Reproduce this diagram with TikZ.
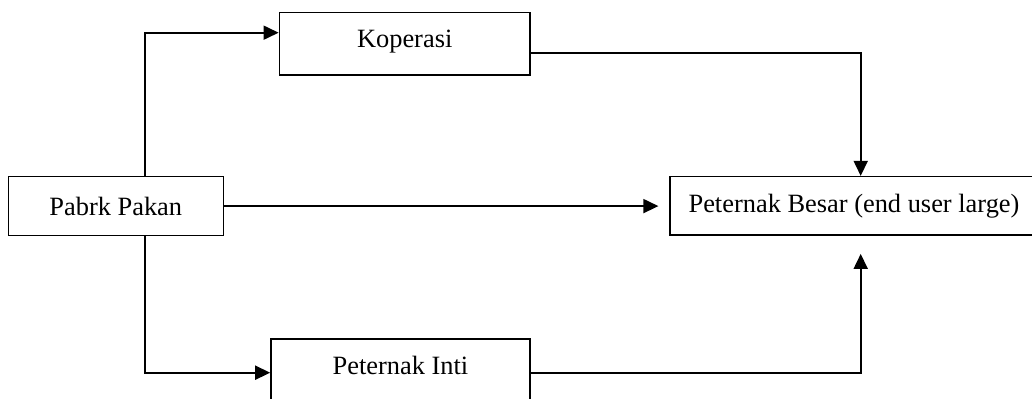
\documentclass[tikz,border=0pt]{standalone}
\usepackage{fontspec}
\setmainfont{Liberation Serif}
\usetikzlibrary{arrows.meta}

\tikzset{
  box/.style={draw, line width=0.8pt, inner sep=0pt, align=center,
    font=\fontsize{13.2}{15}\selectfont},
  arr/.style={line width=0.85pt, -{Triangle[length=7.5pt,width=7pt]}}
}

\begin{document}
\begin{tikzpicture}[x=0.5pt, y=-0.5pt]
    \useasboundingbox (0,0) rectangle (1032,399);
    \clip (0,0) rectangle (1032,399);
    \node[box, minimum width=107.5pt, minimum height=29.5pt] (pabrik) at (115.8, 206.1) {Pabrk Pakan};
    \node[box, minimum width=125.3pt, minimum height=31.3pt, text depth=5.4pt] (kop) at (404.7, 44) {Koperasi};
    \node[box, minimum width=129.5pt, minimum height=31.3pt, text depth=4.6pt] (inti) at (400.5, 370.3) {Peternak Inti};
    \node[box, minimum width=184pt, minimum height=29.2pt] (besar) at (854, 205.9) {Peternak Besar (end user large)};
    \coordinate (up) at (145, 32.7);
    \coordinate (dn) at (145, 372.7);
    \coordinate (kr) at (860.7, 52.7);
    \coordinate (ir) at (860.7, 372.7);
    \draw[arr] (pabrik.north -| up) -- (up) -- (kop.west |- up);
    \draw[arr] (pabrik.south -| dn) -- (dn) -- (inti.west |- dn);
    \draw[arr, shorten >=5.4pt] (pabrik.east) -- (besar.west |- pabrik.east);
    \draw[arr] (kop.east |- kr) -- (kr) -- (besar.north -| kr);
    \draw[arr, shorten >=9pt] (inti.east |- ir) -- (ir) -- (besar.south -| ir);
\end{tikzpicture}
\end{document}
